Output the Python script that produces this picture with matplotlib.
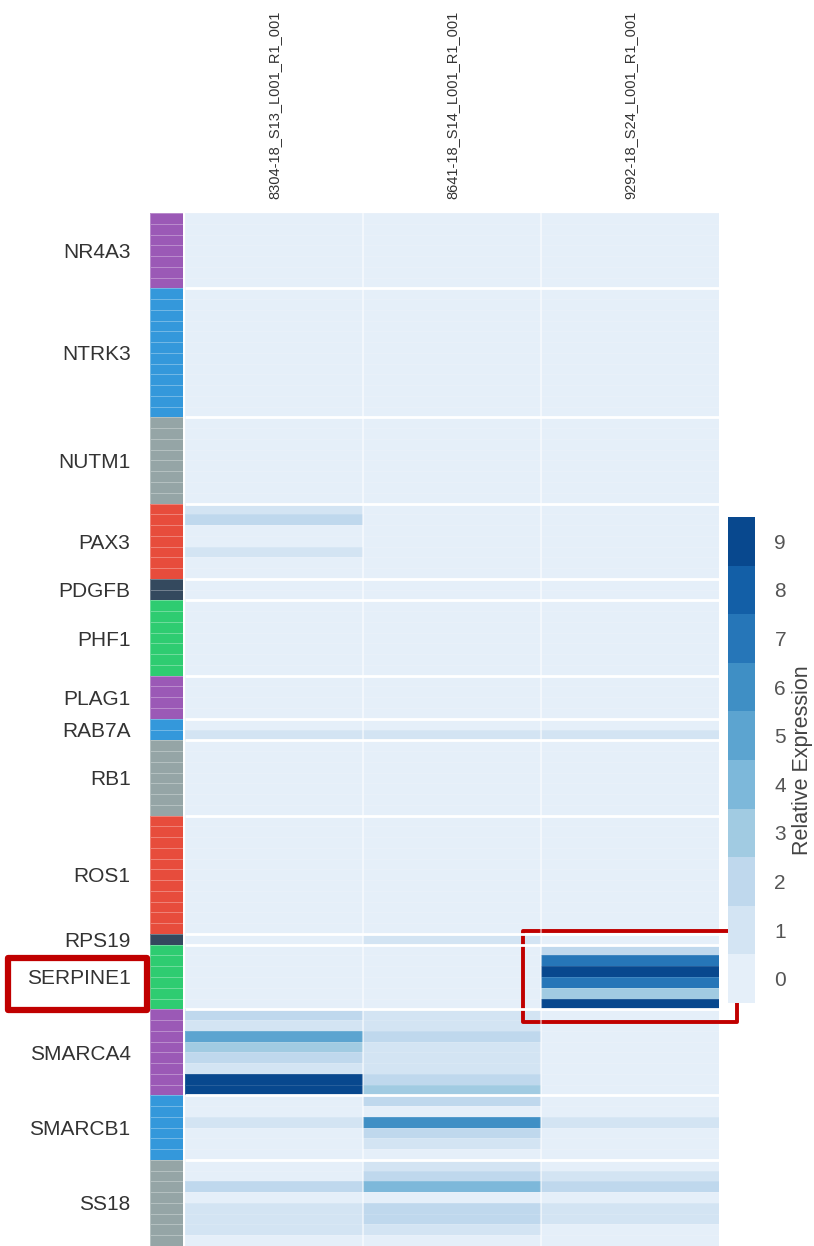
import numpy as np
import matplotlib.pyplot as plt
import matplotlib.transforms as mtransforms
from matplotlib.colors import ListedColormap, BoundaryNorm
from matplotlib.patches import Rectangle

plt.rcParams['font.family'] = ['Liberation Sans', 'DejaVu Sans']

# genes (row groups) and how many exon rows each one has
genes = ["NR4A3", "NTRK3", "NUTM1", "PAX3", "PDGFB", "PHF1", "PLAG1", "RAB7A",
         "RB1", "ROS1", "RPS19", "SERPINE1", "SMARCA4", "SMARCB1", "SS18"]
rows_per_gene = [7, 12, 8, 7, 2, 7, 4, 2, 7, 11, 1, 6, 8, 6, 8]
samples = ["8304-18_S13_L001_R1_001", "8641-18_S14_L001_R1_001",
           "9292-18_S24_L001_R1_001"]

# relative expression per exon row, one value per sample (genes not listed are all 0)
pax3 = [[1, 0, 0], [2, 0, 0], [0, 0, 0], [0, 0, 0], [1, 0, 0], [0, 0, 0], [0, 0, 0]]
rab7a = [[0, 0, 0], [1, 1, 1]]
rps19 = [[0, 1, 0]]
serpine1 = [[0, 0, 2], [0, 0, 7], [0, 0, 9], [0, 0, 7], [0, 0, 3], [0, 0, 9]]
smarca4 = [[2, 1, 0], [1, 1, 0], [5, 2, 0], [3, 1, 0], [2, 1, 0], [1, 1, 0],
           [9, 2, 0], [9, 3, 0]]
smarcb1 = [[0, 2, 0], [0, 0, 0], [1, 6, 1], [0, 2, 0], [0, 1, 0], [0, 0, 0]]
ss18 = [[0, 1, 0], [0, 2, 1], [2, 4, 2], [0, 0, 0], [1, 2, 1], [1, 2, 1],
        [1, 1, 0], [0, 0, 0]]

nonzero = {"PAX3": pax3, "RAB7A": rab7a, "RPS19": rps19, "SERPINE1": serpine1,
           "SMARCA4": smarca4, "SMARCB1": smarcb1, "SS18": ss18}

blocks = []
for g, n in zip(genes, rows_per_gene):
    blocks.append(np.array(nonzero[g]) if g in nonzero else np.zeros((n, 3)))
data = np.vstack(blocks)
n_total = data.shape[0]

starts = np.concatenate([[0], np.cumsum(rows_per_gene)[:-1]])
ends = np.cumsum(rows_per_gene)
centers = (starts + ends) / 2.0
group_idx = np.repeat(np.arange(len(genes)), rows_per_gene)

flatui = ["#9b59b6", "#3498db", "#95a5a6", "#e74c3c", "#34495e", "#2ecc71"]
blues = plt.get_cmap("Blues")(np.linspace(0, 1, 12)[1:-1])
cmap = ListedColormap(blues)
norm = BoundaryNorm(np.arange(-0.5, 10.5, 1), cmap.N)

W, H = 814, 1246
fig = plt.figure(figsize=(W / 100, H / 100), dpi=100)


def px_axes(x0, y0, x1, y1):
    return fig.add_axes([x0 / W, 1 - y1 / H, (x1 - x0) / W, (y1 - y0) / H])


ax = px_axes(185, 213, 719, 1246)
ax_rc = px_axes(150, 213, 183, 1246)
cax = px_axes(728, 517, 755, 1003)

# main heatmap
mesh = ax.pcolormesh(np.arange(4), np.arange(n_total + 1), data, cmap=cmap, norm=norm,
                     edgecolors=(1, 1, 1, 0.12), linewidth=0.4)
ax.hlines(ends[:-1], 0, 3, color="white", lw=2.0)
ax.vlines([1, 2], 0, n_total, color="white", lw=1.5, alpha=0.5)
ax.set_xlim(0, 3)
ax.set_ylim(n_total, 0)
ax.set_yticks([])
ax.xaxis.tick_top()
ax.set_xticks(np.arange(3) + 0.5)
ax.set_xticklabels(samples, rotation=90, fontsize=10.5, color="#333333")
ax.tick_params(axis="x", length=0, pad=10)
for s in ax.spines.values():
    s.set_visible(False)

# gene colour strip
ax_rc.pcolormesh(np.arange(2), np.arange(n_total + 1), (group_idx % 6)[:, None],
                 cmap=ListedColormap(flatui), vmin=-0.5, vmax=5.5,
                 edgecolors=(1, 1, 1, 0.3), linewidth=0.5)
ax_rc.set_xlim(0, 1)
ax_rc.set_ylim(n_total, 0)
ax_rc.set_xticks([])
ax_rc.set_yticks(centers)
ax_rc.set_yticklabels(genes, fontsize=15, color="#333333")
ax_rc.tick_params(axis="y", length=0, pad=14)
for s in ax_rc.spines.values():
    s.set_visible(False)

# colour bar
cb = fig.colorbar(mesh, cax=cax, ticks=np.arange(10))
cb.outline.set_visible(False)
cb.ax.minorticks_off()
cb.ax.tick_params(which="both", length=0, pad=14, labelsize=15, labelcolor="#555555")
cb.set_label("Relative Expression", fontsize=15.5, color="#444444", labelpad=4)

# red highlight boxes around SERPINE1
k = genes.index("SERPINE1")
red = "#c00000"
trans = mtransforms.blended_transform_factory(fig.transFigure, ax.transData)
fig.patches.append(Rectangle((8 / W, starts[k] + 1.2), 139 / W, 4.9, transform=trans,
                             fill=False, ec=red, lw=4.5, joinstyle="round"))
ax.add_patch(Rectangle((1.9, starts[k] - 1.3), 1.2, rows_per_gene[k] + 2.5,
                       fill=False, ec=red, lw=2.8, clip_on=False, joinstyle="round"))

fig.savefig("out.png", dpi=100, facecolor="white")
